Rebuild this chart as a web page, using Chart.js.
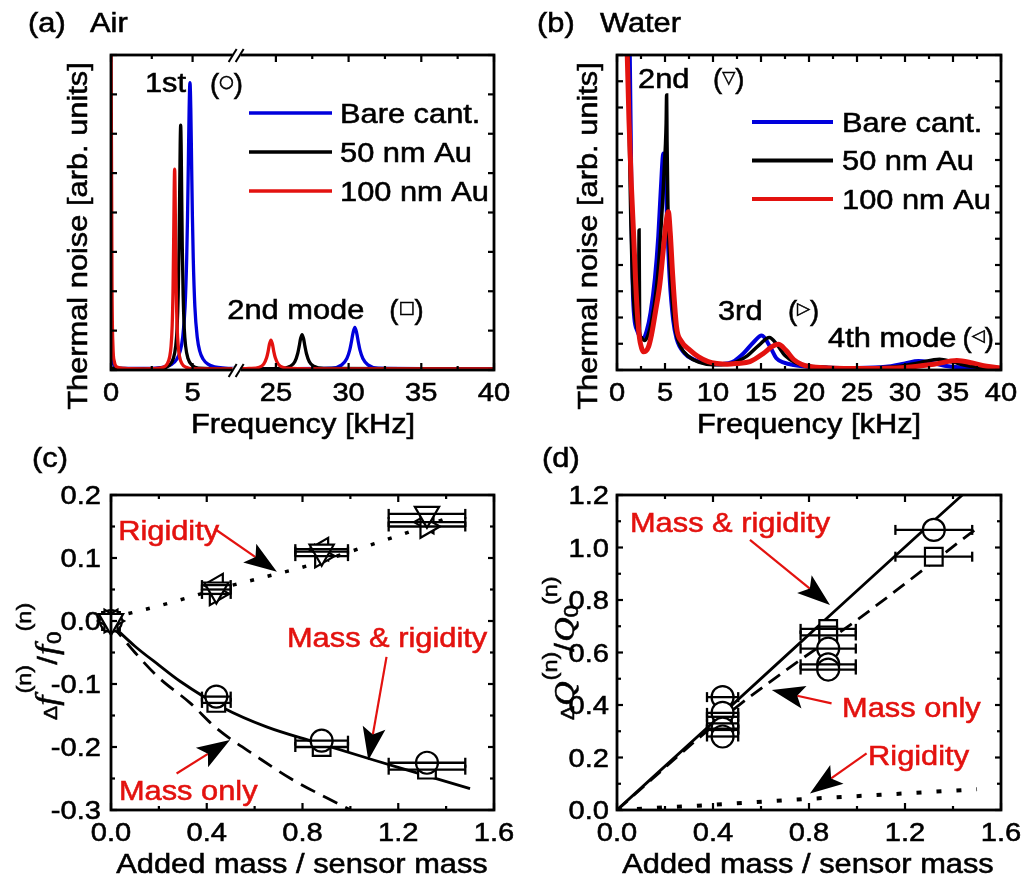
<!DOCTYPE html>
<html>
<head>
<meta charset="utf-8">
<title>Thermal noise spectra and mass / rigidity shifts</title>
<script src="https://cdn.jsdelivr.net/npm/chart.js@4.4.1/dist/chart.umd.min.js"></script>
<style>
  html, body { margin: 0; padding: 0; background: #fff; }
  #page { position: relative; width: 1029px; height: 881px; overflow: hidden; background: #fff; }
  canvas { position: absolute; }
</style>
</head>
<body>
<div id="page">
  <canvas id="airChart" width="514" height="440" style="left:0;top:0"></canvas>
  <canvas id="waterChart" width="515" height="440" style="left:514px;top:0"></canvas>
  <canvas id="shiftChart" width="514" height="441" style="left:0;top:440px"></canvas>
  <canvas id="qChart" width="515" height="441" style="left:514px;top:440px"></canvas>
</div>
<script>
// ---- (a) thermal noise in air, [kHz, arb.] ; split at the axis break ----
const airBareLo = [[0,0.35],[0.15,0.15],[0.4,0.05],[2,0.04],[3.3,0.08],[3.74,0.15],[4.04,0.28],[4.24,0.48],[4.39,0.82],[4.54,1.61],[4.64,2.85],[4.69,3.88],[4.74,5.25],[4.79,6.65],[4.84,7.3],[4.89,6.65],[4.94,5.25],[4.99,3.88],[5.04,2.85],[5.14,1.61],[5.29,0.82],[5.44,0.48],[5.64,0.28],[5.94,0.15],[6.34,0.08],[7,0.05],[7.7,0.04]];
const airBareHi = [[22.3,0.03],[28.83,0.045],[29.53,0.13],[29.88,0.29],[30.08,0.51],[30.18,0.69],[30.31,0.95],[30.43,1.08],[30.55,0.95],[30.68,0.69],[30.78,0.51],[30.98,0.29],[31.33,0.13],[32.03,0.045],[40,0.03]];
const airAu50Lo = [[0,0.05],[2,0.03],[3.17,0.05],[3.57,0.12],[3.82,0.29],[3.97,0.62],[4.05,1.06],[4.12,1.91],[4.17,3.11],[4.21,4.57],[4.24,5.71],[4.27,6.22],[4.3,5.71],[4.33,4.57],[4.37,3.11],[4.42,1.91],[4.49,1.06],[4.57,0.62],[4.72,0.29],[4.97,0.12],[5.37,0.05],[7.7,0.03]];
const airAu50Hi = [[22.3,0.03],[25.3,0.04],[26,0.1],[26.3,0.21],[26.5,0.42],[26.6,0.6],[26.7,0.8],[26.8,0.9],[26.9,0.8],[27,0.6],[27.1,0.42],[27.3,0.21],[27.6,0.1],[28.3,0.04],[40,0.03]];
const airAu100Lo = [[0,9],[0.06,2.2],[0.12,0.6],[0.2,0.22],[0.35,0.08],[0.8,0.04],[2,0.03],[2.8,0.04],[3.2,0.07],[3.45,0.16],[3.6,0.34],[3.68,0.6],[3.75,1.13],[3.8,1.99],[3.84,3.26],[3.87,4.47],[3.9,5.1],[3.93,4.47],[3.96,3.26],[4,1.99],[4.05,1.13],[4.12,0.6],[4.2,0.34],[4.35,0.16],[4.6,0.07],[5,0.03],[7.7,0.03]];
const airAu100Hi = [[22.3,0.03],[23.16,0.04],[23.86,0.07],[24.16,0.15],[24.36,0.31],[24.46,0.46],[24.56,0.66],[24.66,0.76],[24.76,0.66],[24.86,0.46],[24.96,0.31],[25.16,0.15],[25.46,0.07],[26.16,0.04],[28,0.03],[40,0.03]];

// ---- (b) thermal noise in water ----
const waterBare = [[1.3,13],[1.45,8.5],[1.55,5],[1.65,3],[1.8,2],[2.1,1.5],[2.4,1.28],[2.74,1.2],[3.1,1.5],[3.5,2.2],[3.95,3.5],[4.3,5.1],[4.55,6.8],[4.83,8.25],[5.05,7.4],[5.25,5.4],[5.5,3.4],[5.85,1.9],[6.2,1.2],[7,0.65],[8,0.4],[9,0.28],[10,0.22],[11,0.23],[12,0.3],[13.16,0.63],[14.2,1.05],[15.07,1.31],[16,0.85],[16.6,0.45],[17.4,0.28],[18.4,0.19],[20,0.12],[22,0.09],[25,0.08],[28,0.12],[30,0.25],[31.4,0.34],[32.8,0.27],[34.5,0.14],[36.5,0.08],[40,0.05]];
const waterAu50 = [[1.1,13],[1.3,8.5],[1.45,5.5],[1.6,3.5],[1.8,2.3],[2.1,1.6],[2.25,1.5],[2.3,5.33],[2.36,1.45],[2.5,1.25],[2.85,1.12],[3.2,1.3],[3.6,1.85],[4.1,3.1],[4.45,4.6],[4.75,6.4],[4.95,7.9],[5.05,8.6],[5.12,9.4],[5.17,10.48],[5.21,8.7],[5.3,6.3],[5.45,4.6],[5.75,2.6],[6.1,1.5],[6.6,0.9],[7.5,0.5],[8.5,0.3],[10,0.2],[11.5,0.22],[12.5,0.32],[13.6,0.55],[14.8,0.95],[15.87,1.24],[16.7,0.95],[17.5,0.55],[18.6,0.28],[20,0.15],[22,0.1],[26,0.08],[29,0.12],[31.5,0.28],[33.6,0.41],[35,0.3],[36.5,0.16],[38,0.09],[40,0.06]];
const waterAu100 = [[1,13],[1.25,9.5],[1.5,7],[1.75,5],[1.95,3.3],[2.15,2],[2.35,1.2],[2.55,0.85],[2.74,0.7],[3,0.72],[3.3,0.9],[3.6,1.35],[4,2.2],[4.47,3.3],[4.8,4.5],[5.1,5.6],[5.35,6.03],[5.55,5.2],[5.8,3.6],[6.2,1.65],[6.7,1.1],[7.6,0.76],[8.5,0.5],[9.5,0.32],[10.4,0.25],[11.5,0.22],[12.5,0.25],[13.85,0.32],[15.24,0.63],[16.1,0.88],[16.8,0.98],[17.6,0.75],[18.4,0.4],[19.2,0.22],[20.1,0.13],[22,0.08],[26,0.06],[30,0.1],[33,0.22],[35.4,0.36],[37,0.27],[38.5,0.14],[40,0.07]];

// ---- (c) relative frequency shift vs added mass ----
const massRatio = [0, 0.44, 0.88, 1.32];
const massErr = [0, 0.06, 0.11, 0.16];
const dfCircle = [0, -0.12, -0.19, -0.225];   // 1st mode, air
const dfSquare = [0, -0.13, -0.2, -0.236];    // 2nd mode, air
const dfDown = [0, 0.05, 0.11, 0.17];         // 2nd mode, water
const dfRight = [0, 0.043, 0.103, 0.15];      // 3rd mode, water
const dfLeft = [0, 0.057, 0.114, 0.157];      // 4th mode, water
const fitRigidityC = [[0,0.005],[0.19,0.023],[0.44,0.05],[0.706,0.076],[0.797,0.085],[1.054,0.117],[1.228,0.139],[1.402,0.163]];
const fitBothC = [[0,-0.005],[0.1,-0.04],[0.2,-0.07],[0.29,-0.096],[0.47,-0.138],[0.65,-0.168],[0.85,-0.192],[1.1,-0.221],[1.26,-0.239],[1.5,-0.266]];
const fitMassC = [[0,-0.005],[0.1,-0.05],[0.2,-0.09],[0.33,-0.13],[0.44,-0.17],[0.62,-0.218],[0.75,-0.25],[0.985,-0.297],[1.05,-0.31]];

// ---- (d) relative Q change vs added mass ----
const qCircX = [0.44, 0.44, 0.44, 0.44, 0.88, 0.88, 0.88, 1.32];
const qCircY = [0.43, 0.37, 0.31, 0.28, 0.615, 0.555, 0.535, 1.067];
const qCircErr = [0.065, 0.065, 0.065, 0.065, 0.115, 0.115, 0.115, 0.16];
const qSqX = [0.44, 0.44, 0.44, 0.88, 0.88, 1.32];
const qSqY = [0.355, 0.33, 0.305, 0.69, 0.665, 0.965];
const qSqErr = [0.065, 0.065, 0.065, 0.115, 0.115, 0.16];
const fitBothD = [[0,0],[0.44,0.367],[0.88,0.735],[1.32,1.102],[1.5,1.25]];
const fitMassD = [[0,0],[0.44,0.35],[0.7,0.53],[1,0.724],[1.505,1.077]];
const fitRigidityD = [[0,0],[0.2,0.01],[0.44,0.022],[0.79,0.042],[1.1,0.058],[1.5,0.079]];

// ---- ticks ----
const freqTicksLo = [0, 5], freqMinorLo = [2.5];
const freqTicksHi = [25, 30, 35, 40], freqMinorHi = [27.5, 32.5, 37.5];
const freqTicks = [0, 5, 10, 15, 20, 25, 30, 35, 40];
const freqMinor = [2.5, 7.5, 12.5, 17.5, 22.5, 27.5, 32.5, 37.5];
const noiseTicksAir = [0, 1, 2, 3, 4, 5, 6, 7, 8];
const noiseTicksWater = [0, 1, 2, 3, 4, 5, 6, 7, 8, 9, 10, 11, 12];
const massTicks = [0, 0.4, 0.8, 1.2, 1.6], massMinor = [0.2, 0.6, 1.0, 1.4];
const shiftTicks = [-0.3, -0.2, -0.1, 0, 0.1, 0.2], shiftMinor = [-0.25, -0.15, -0.05, 0.05, 0.15];
const qTicks = [0, 0.2, 0.4, 0.6, 0.8, 1.0, 1.2], qMinor = [0.1, 0.3, 0.5, 0.7, 0.9, 1.1];
const seriesNames = ['Bare cant.', '50 nm Au', '100 nm Au'];

const BLUE = '#0000dc', BLACK = '#000000', RED = '#e3120f';
const SANS = '"Liberation Sans", Arial, sans-serif';
const SERIF = '"Liberation Serif", "Times New Roman", serif';
const SYM = '"DejaVu Sans", sans-serif';
const SX = 1.12;            // the lettering in this figure runs a little wide
const INK = 0.55;           // light outline so the letters read as heavy as the print
const TICK = 26, TEXT = 27.5;

const pts = arr => arr.map(([x, y]) => ({x, y}));
const pair = (xs, ys) => xs.map((x, i) => ({x, y: ys[i]}));
const fmt1 = v => (Math.abs(v) < 1e-9 ? 0 : v).toFixed(1);

function ink(ctx, str, x, y, color) {
  ctx.fillStyle = color; ctx.strokeStyle = color; ctx.lineWidth = INK;
  ctx.fillText(str, x, y);
  ctx.strokeText(str, x, y);
}

function capText(ctx, str, x, yc, size, opt = {}) {
  ctx.save();
  ctx.translate(x, yc);
  if (opt.rot) ctx.rotate(opt.rot);
  ctx.scale(SX, 1);
  ctx.font = `${size}px ${SANS}`;
  ctx.textAlign = opt.align || 'left';
  ctx.textBaseline = 'alphabetic';
  ink(ctx, str, 0, 0.358 * size, opt.color || '#000');
  ctx.restore();
}

// "(symbol)" mode marker used next to the peak names
function parenSymbol(ctx, sym, x, yc, size) {
  ctx.save();
  ctx.translate(x, yc);
  ctx.textBaseline = 'alphabetic';
  ctx.font = `${size}px ${SANS}`;
  const pw = ctx.measureText('(').width;
  ink(ctx, '(', 0, 0.358 * size, '#000');
  ctx.font = `${Math.round(size * 0.6)}px ${SYM}`;
  ctx.textBaseline = 'middle';
  const sw = ctx.measureText(sym).width;
  ink(ctx, sym, pw, 0, '#000');
  ctx.font = `${size}px ${SANS}`;
  ctx.textBaseline = 'alphabetic';
  ink(ctx, ')', pw + sw, 0.358 * size, '#000');
  ctx.restore();
}

// rotated label made of several runs (superscripts, subscripts)
function runLabel(ctx, parts, x, y) {
  ctx.save();
  ctx.translate(x, y);
  ctx.rotate(-Math.PI / 2);
  ctx.scale(SX, 1);
  ctx.textBaseline = 'alphabetic';
  let cx = 0;
  for (const p of parts) {
    ctx.font = p.font;
    ink(ctx, p.t, cx, p.dy || 0, '#000');
    cx += ctx.measureText(p.t).width + (p.gap || 0);
  }
  ctx.restore();
}

function seg(ctx, x0, y0, x1, y1) {
  ctx.beginPath(); ctx.moveTo(x0, y0); ctx.lineTo(x1, y1); ctx.stroke();
}

function arrow(ctx, x0, y0, x1, y1) {
  const ang = Math.atan2(y1 - y0, x1 - x0), L = 33, W = 11.5;
  const c = Math.cos(ang), s = Math.sin(ang);
  const bx = x1 - L * c, by = y1 - L * s;
  ctx.strokeStyle = RED; ctx.lineWidth = 2.2;
  seg(ctx, x0, y0, bx + 7 * c, by + 7 * s);
  ctx.fillStyle = '#000';
  ctx.beginPath();
  ctx.moveTo(x1, y1);
  ctx.lineTo(bx - W * s, by + W * c);
  ctx.lineTo(bx + 7 * c, by + 7 * s);
  ctx.lineTo(bx + W * s, by - W * c);
  ctx.closePath();
  ctx.fill();
}

// frame, inward ticks, tick labels, titles, legend and callouts
function decorate(cfg) {
  return {
    id: 'decorate',
    afterDatasetsDraw(chart) {
      const ctx = chart.ctx, a = chart.chartArea, sc = chart.scales, ys = sc.y;
      ctx.save();

      (cfg.errorBars || []).forEach(eb => {
        ctx.strokeStyle = '#000'; ctx.lineWidth = 2.3;
        eb.x.forEach((x, i) => {
          const e = eb.err[i];
          if (!e) return;
          const y = ys.getPixelForValue(eb.y[i]);
          const x0 = sc.x.getPixelForValue(x - e), x1 = sc.x.getPixelForValue(x + e);
          seg(ctx, x0, y, x1, y);
          seg(ctx, x0, y - 5, x0, y + 5);
          seg(ctx, x1, y - 5, x1, y + 5);
        });
      });

      ctx.strokeStyle = '#000';
      ctx.lineWidth = 2.8;
      ctx.strokeRect(a.left, a.top, a.right - a.left, a.bottom - a.top);
      ctx.lineWidth = 2.2;
      cfg.xTicks.forEach(t => {
        const s = sc[t.axis];
        const mark = (v, len) => {
          const p = s.getPixelForValue(v);
          seg(ctx, p, a.bottom, p, a.bottom - len);
          seg(ctx, p, a.top, p, a.top + len);
        };
        t.major.forEach(v => mark(v, 7));
        (t.minor || []).forEach(v => mark(v, 4));
        t.major.forEach(v => capText(ctx, t.fmt(v), s.getPixelForValue(v), a.bottom + 22, TICK, {align: 'center'}));
      });
      const mY = (v, len) => {
        const p = ys.getPixelForValue(v);
        seg(ctx, a.left, p, a.left + len, p);
        seg(ctx, a.right, p, a.right - len, p);
      };
      cfg.yTicks.major.forEach(v => mY(v, 6));
      (cfg.yTicks.minor || []).forEach(v => mY(v, 4));
      if (cfg.yTicks.fmt) {
        cfg.yTicks.major.forEach(v => capText(ctx, cfg.yTicks.fmt(v), a.left - cfg.yTicks.gap, ys.getPixelForValue(v), TICK, {align: 'right'}));
      }

      if (cfg.breakAxis) {
        const bx = sc[cfg.breakAxis].right;
        [a.top, a.bottom].forEach(y => {
          ctx.fillStyle = '#fff';
          ctx.fillRect(bx - 4, y - 3, 8, 6);
          ctx.strokeStyle = '#000'; ctx.lineWidth = 2;
          seg(ctx, bx - 8, y + 7, bx, y - 6);
          seg(ctx, bx - 1, y + 7, bx + 7, y - 6);
        });
      }

      if (cfg.legend) {
        const L = cfg.legend;
        L.colors.forEach((col, i) => {
          const y = L.y0 + i * L.dy;
          ctx.strokeStyle = col; ctx.lineWidth = L.lw;
          seg(ctx, L.x0, y, L.x1, y);
          capText(ctx, seriesNames[i], L.tx, y, TEXT);
        });
      }

      (cfg.notes || []).forEach(n => {
        const x = sc[n.axis || 'x'].getPixelForValue(n.x), y = ys.getPixelForValue(n.y);
        if (n.sym) parenSymbol(ctx, n.sym, x, y, TEXT);
        else capText(ctx, n.t, x, y, n.size || TEXT, {color: n.color});
      });
      (cfg.arrows || []).forEach(r => {
        arrow(ctx, sc.x.getPixelForValue(r[0]), ys.getPixelForValue(r[1]),
                   sc.x.getPixelForValue(r[2]), ys.getPixelForValue(r[3]));
      });

      cfg.panel.forEach(p => capText(ctx, p.t, p.x, p.y, TEXT));
      capText(ctx, cfg.xTitle.t, cfg.xTitle.x, cfg.xTitle.y, TEXT, {align: 'center'});
      if (cfg.yTitle.t) capText(ctx, cfg.yTitle.t, cfg.yTitle.x, cfg.yTitle.y, TEXT, {align: 'center', rot: -Math.PI / 2});
      else runLabel(ctx, cfg.yTitle.parts, cfg.yTitle.x, cfg.yTitle.y);
      ctx.restore();
    }
  };
}

const hiddenAxis = (extra, fit) => Object.assign({
  type: 'linear',
  grid: {display: false, drawTicks: false},
  border: {display: false},
  ticks: {display: false},
  afterFit: fit
}, extra);

const baseOptions = (padRight, scales) => ({
  responsive: false,
  animation: false,
  devicePixelRatio: 1,
  layout: {padding: {top: 55, right: padRight, left: 0, bottom: 0}},
  plugins: {legend: {display: false}, tooltip: {enabled: false}},
  scales
});

const curve = (data, color, width, order, extra) => Object.assign({
  data, showLine: true, pointRadius: 0, borderColor: color, borderWidth: width,
  cubicInterpolationMode: 'monotone', fill: false, order
}, extra);

const markers = (data, style, rot, radius, order) => ({
  data, showLine: false, pointStyle: style, pointRotation: rot, pointRadius: radius,
  pointBorderWidth: 2.2, pointBorderColor: '#000', pointBackgroundColor: '#fff', clip: false, order
});

// (a) air
new Chart(document.getElementById('airChart'), {
  type: 'scatter',
  data: {
    datasets: [
      curve(pts(airAu100Lo), RED, 3.3, 1, {xAxisID: 'xa1'}),
      curve(pts(airAu100Hi), RED, 3.3, 1, {xAxisID: 'xa2'}),
      curve(pts(airAu50Lo), BLACK, 3.3, 2, {xAxisID: 'xa1'}),
      curve(pts(airAu50Hi), BLACK, 3.3, 2, {xAxisID: 'xa2'}),
      curve(pts(airBareLo), BLUE, 3.3, 3, {xAxisID: 'xa1'}),
      curve(pts(airBareHi), BLUE, 3.3, 3, {xAxisID: 'xa2'})
    ]
  },
  options: baseOptions(20, {
    xa1: hiddenAxis({axis: 'x', position: 'bottom', min: 0, max: 7.7, stack: 'freq', stackWeight: 125.7}, s => { s.height = 70; }),
    xa2: hiddenAxis({axis: 'x', position: 'bottom', min: 22.3, max: 40, stack: 'freq', stackWeight: 257.5}, s => { s.height = 70; }),
    y: hiddenAxis({position: 'left', min: 0, max: 8}, s => { s.width = 111; })
  }),
  plugins: [decorate({
    xTicks: [
      {axis: 'xa1', major: freqTicksLo, minor: freqMinorLo, fmt: String},
      {axis: 'xa2', major: freqTicksHi, minor: freqMinorHi, fmt: String}
    ],
    yTicks: {major: noiseTicksAir},
    breakAxis: 'xa1',
    legend: {colors: [BLUE, BLACK, RED], x0: 249, x1: 332, tx: 340, y0: 113, dy: 39, lw: 3.3},
    notes: [
      {t: '1st', axis: 'xa1', x: 2.08, y: 7.31},
      {sym: '○', axis: 'xa1', x: 6.06, y: 7.29},
      {t: '2nd mode', axis: 'xa1', x: 7.13, y: 1.55},
      {sym: '□', axis: 'xa2', x: 32.8, y: 1.55}
    ],
    panel: [{t: '(a)', x: 28, y: 22}, {t: 'Air', x: 90, y: 22}],
    xTitle: {t: 'Frequency [kHz]', x: 303, y: 423},
    yTitle: {t: 'Thermal noise [arb. units]', x: 77, y: 236}
  })]
});

// (b) water
new Chart(document.getElementById('waterChart'), {
  type: 'scatter',
  data: {
    datasets: [
      curve(pts(waterAu100), RED, 5, 1),
      curve(pts(waterAu50), BLACK, 3.5, 2),
      curve(pts(waterBare), BLUE, 4, 3)
    ]
  },
  options: baseOptions(28, {
    x: hiddenAxis({position: 'bottom', min: 0, max: 40}, s => { s.height = 70; }),
    y: hiddenAxis({position: 'left', min: 0, max: 12}, s => { s.width = 103; })
  }),
  plugins: [decorate({
    xTicks: [{axis: 'x', major: freqTicks, minor: freqMinor, fmt: String}],
    yTicks: {major: noiseTicksWater},
    legend: {colors: [BLUE, BLACK, RED], x0: 238, x1: 319, tx: 328, y0: 122, dy: 38.5, lw: 4},
    notes: [
      {t: '2nd', x: 2.19, y: 11.12},
      {sym: '▽', x: 10.0, y: 11.12},
      {t: '3rd', x: 10.52, y: 2.29},
      {sym: '▷', x: 17.8, y: 2.29},
      {t: '4th mode', x: 21.98, y: 1.26},
      {sym: '◁', x: 36.0, y: 1.26}
    ],
    panel: [{t: '(b)', x: 23, y: 22}, {t: 'Water', x: 86, y: 22}],
    xTitle: {t: 'Frequency [kHz]', x: 295, y: 423},
    yTitle: {t: 'Thermal noise [arb. units]', x: 73, y: 236}
  })]
});

// (c) frequency shift
new Chart(document.getElementById('shiftChart'), {
  type: 'scatter',
  data: {
    datasets: [
      markers(pair(massRatio, dfCircle), 'circle', 0, 11, 2),
      markers(pair(massRatio, dfSquare), 'rect', 0, 12.5, 3),
      markers(pair(massRatio, dfDown), 'triangle', 180, 14, 1),
      markers(pair(massRatio, dfRight), 'triangle', 90, 13, 1),
      markers(pair(massRatio, dfLeft), 'triangle', 270, 13, 1),
      curve(pts(fitRigidityC), BLACK, 3.5, 10, {borderDash: [4, 14]}),
      curve(pts(fitBothC), BLACK, 2.8, 11),
      curve(pts(fitMassC), BLACK, 2.8, 12, {borderDash: [16, 9]})
    ]
  },
  options: baseOptions(20, {
    x: hiddenAxis({position: 'bottom', min: 0, max: 1.6}, s => { s.height = 71; }),
    y: hiddenAxis({position: 'left', min: -0.3, max: 0.2}, s => { s.width = 111; })
  }),
  plugins: [decorate({
    errorBars: [
      {x: massRatio, y: dfCircle, err: massErr},
      {x: massRatio, y: dfSquare, err: massErr},
      {x: massRatio, y: dfDown, err: massErr},
      {x: massRatio, y: dfRight, err: massErr},
      {x: massRatio, y: dfLeft, err: massErr}
    ],
    xTicks: [{axis: 'x', major: massTicks, minor: massMinor, fmt: fmt1}],
    yTicks: {major: shiftTicks, minor: shiftMinor, fmt: fmt1, gap: 10},
    notes: [
      {t: 'Rigidity', x: 0.03, y: 0.144, color: RED},
      {t: 'Mass & rigidity', x: 0.735, y: -0.025, color: RED},
      {t: 'Mass only', x: 0.033, y: -0.268, color: RED}
    ],
    arrows: [
      [0.434, 0.146, 0.693, 0.078],
      [1.151, -0.057, 1.075, -0.221],
      [0.274, -0.242, 0.497, -0.189]
    ],
    panel: [{t: '(c)', x: 32, y: 17}],
    xTitle: {t: 'Added mass / sensor mass', x: 302, y: 423},
    yTitle: {x: 57, y: 280, parts: [
      {t: 'Δ', font: `19px ${SANS}`},
      {t: 'f', font: `italic 32px ${SERIF}`, gap: 2},
      {t: '(n)', font: `21px ${SANS}`, dy: -26},
      {t: '/', font: `28px ${SANS}`, gap: 1},
      {t: 'f', font: `italic 32px ${SERIF}`, gap: 1},
      {t: '0', font: `20px ${SANS}`, dy: 4},
      {t: '(n)', font: `21px ${SANS}`, dy: -26}
    ]}
  })]
});

// (d) quality factor change
new Chart(document.getElementById('qChart'), {
  type: 'scatter',
  data: {
    datasets: [
      markers(pair(qCircX, qCircY), 'circle', 0, 11, 1),
      markers(pair(qSqX, qSqY), 'rect', 0, 12.5, 2),
      curve(pts(fitBothD), BLACK, 2.8, 10),
      curve(pts(fitMassD), BLACK, 2.8, 11, {borderDash: [14, 8]}),
      curve(pts(fitRigidityD), BLACK, 4, 12, {borderDash: [5, 15]})
    ]
  },
  options: baseOptions(28, {
    x: hiddenAxis({position: 'bottom', min: 0, max: 1.6}, s => { s.height = 71; }),
    y: hiddenAxis({position: 'left', min: 0, max: 1.2}, s => { s.width = 103; })
  }),
  plugins: [decorate({
    errorBars: [
      {x: qCircX, y: qCircY, err: qCircErr},
      {x: qSqX, y: qSqY, err: qSqErr}
    ],
    xTicks: [{axis: 'x', major: massTicks, minor: massMinor, fmt: fmt1}],
    yTicks: {major: qTicks, minor: qMinor, fmt: fmt1, gap: 8},
    notes: [
      {t: 'Mass & rigidity', x: 0.054, y: 1.097, color: RED},
      {t: 'Mass only', x: 0.9375, y: 0.392, color: RED},
      {t: 'Rigidity', x: 1.046, y: 0.21, color: RED}
    ],
    arrows: [
      [0.554, 1.029, 0.8875, 0.781],
      [0.894, 0.406, 0.645, 0.457],
      [1.04, 0.216, 0.804, 0.063]
    ],
    panel: [{t: '(d)', x: 28, y: 17}],
    xTitle: {t: 'Added mass / sensor mass', x: 294, y: 423},
    yTitle: {x: 60, y: 280, parts: [
      {t: 'Δ', font: `19px ${SANS}`},
      {t: 'Q', font: `italic 30px ${SERIF}`, gap: 1},
      {t: '(n)', font: `21px ${SANS}`, dy: -17},
      {t: '/', font: `28px ${SANS}`, gap: 1},
      {t: 'Q', font: `italic 30px ${SERIF}`},
      {t: '0', font: `20px ${SANS}`, dy: 4},
      {t: '(n)', font: `21px ${SANS}`, dy: -17}
    ]}
  })]
});
</script>
</body>
</html>
